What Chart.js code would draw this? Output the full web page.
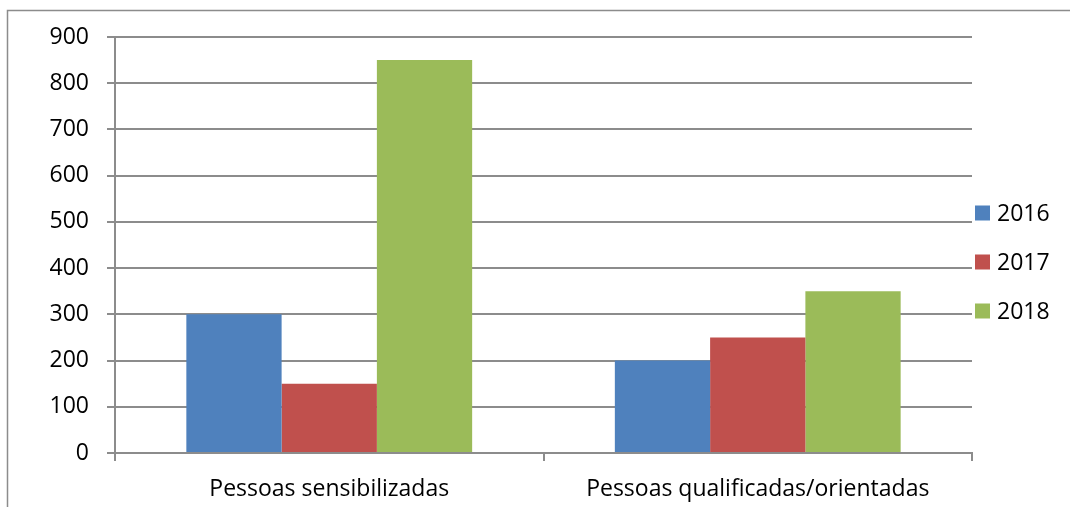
<!DOCTYPE html>
<html lang="pt">
<head>
    <meta charset="UTF-8">
    <title>Pessoas sensibilizadas e qualificadas</title>
    <script src="https://cdn.jsdelivr.net/npm/chart.js@4/dist/chart.umd.min.js"></script>
    <style>
        html, body { margin: 0; padding: 0; background: #fff; }
        #wrap { width: 1070px; height: 507px; position: relative; }
    </style>
</head>
<body>
    <div id="wrap"><canvas id="chart"></canvas></div>
    <script>
        const categories = ['Pessoas sensibilizadas', 'Pessoas qualificadas/orientadas'];
        const years = ['2016', '2017', '2018'];
        const values2016 = [300, 200];
        const values2017 = [150, 250];
        const values2018 = [850, 350];
        const colors = ['#4f81bd', '#c0504d', '#9bbb59'];

        const gridColor = '#8c8c8c';
        const font = { family: '"Open Sans", sans-serif', size: 23 };

        // frame + legend drawn by hand so they sit where the original has them
        const frameAndLegend = {
            id: 'frameAndLegend',
            beforeDraw(chart) {
                const ctx = chart.ctx;
                ctx.save();
                ctx.strokeStyle = '#8c8c8c';
                ctx.lineWidth = 1.5;
                ctx.strokeRect(7.5, 10.5, 3000, 3000);
                ctx.restore();
            },
            afterDraw(chart) {
                const ctx = chart.ctx;
                ctx.save();
                ctx.font = font.size + 'px ' + font.family;
                ctx.textBaseline = 'middle';
                chart.data.datasets.forEach((ds, i) => {
                    const y = 213 + i * 49;
                    ctx.fillStyle = ds.backgroundColor;
                    ctx.fillRect(975, y - 7.5, 15, 15);
                    ctx.fillStyle = '#000';
                    ctx.fillText(ds.label, 997, y + 1);
                });
                ctx.restore();
            }
        };

        new Chart(document.getElementById('chart'), {
            type: 'bar',
            data: {
                labels: categories,
                datasets: [
                    { label: years[0], data: values2016, backgroundColor: colors[0] },
                    { label: years[1], data: values2017, backgroundColor: colors[1] },
                    { label: years[2], data: values2018, backgroundColor: colors[2] }
                ]
            },
            options: {
                responsive: true,
                maintainAspectRatio: false,
                animation: false,
                categoryPercentage: 0.667,
                barPercentage: 1,
                layout: { padding: { top: 37, right: 98, left: 0, bottom: 0 } },
                plugins: {
                    legend: { display: false },
                    tooltip: { enabled: false }
                },
                scales: {
                    x: {
                        grid: { drawOnChartArea: false, color: gridColor, lineWidth: 2, tickLength: 8 },
                        border: { color: gridColor, width: 2 },
                        ticks: { color: '#000', font: font, padding: 15 },
                        afterFit: s => { s.height = 54; }
                    },
                    y: {
                        min: 0,
                        max: 900,
                        ticks: { stepSize: 100, color: '#000', font: font, padding: 18 },
                        grid: { color: gridColor, lineWidth: 2, tickLength: 8 },
                        border: { color: gridColor, width: 2 },
                        afterFit: s => { s.width = 115; }
                    }
                }
            },
            plugins: [frameAndLegend]
        });
    </script>
</body>
</html>
